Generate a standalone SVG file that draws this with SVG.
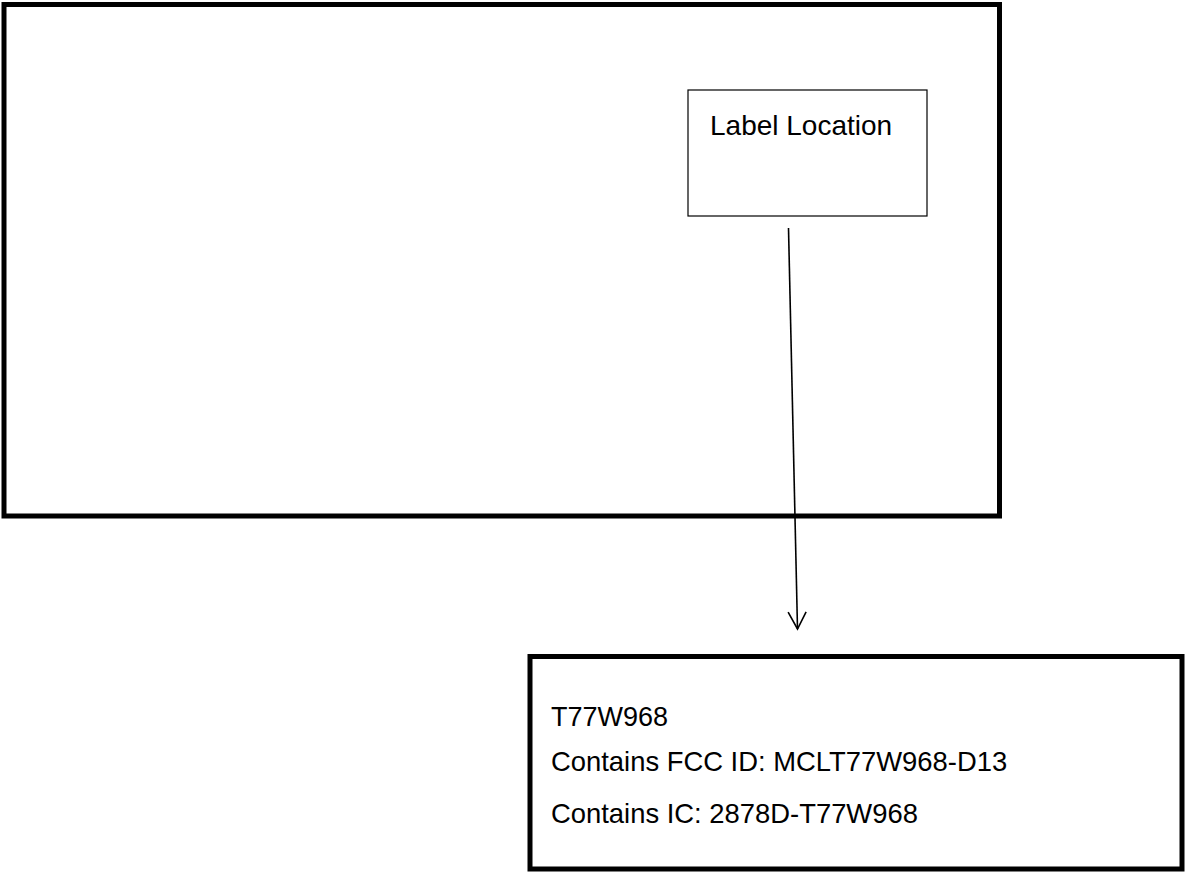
<svg xmlns="http://www.w3.org/2000/svg" width="1185" height="872" viewBox="0 0 1185 872">
  <style>
    .thick { fill: #ffffff; stroke: #000000; stroke-width: 5; }
    .thin { fill: #ffffff; stroke: #000000; stroke-width: 1.2; }
    .txt { font-family: "Liberation Sans", Arial, sans-serif; fill: #000000; }
    .conn { stroke: #000000; stroke-width: 1.6; fill: none; }
  </style>
  <defs>
    <marker id="openArrow" markerUnits="userSpaceOnUse" markerWidth="24" markerHeight="24" refX="18" refY="10" orient="auto" viewBox="0 0 24 20">
      <path d="M1,1 L18,10 L1,19" fill="none" stroke="#000000" stroke-width="1.6"/>
    </marker>
  </defs>
  <rect x="0" y="0" width="1185" height="872" fill="#ffffff"/>
  <g id="device">
    <rect class="thick" x="4" y="4.5" width="995.5" height="511.5"/>
  </g>
  <g id="label-location">
    <rect class="thin" x="688" y="90" width="239" height="126"/>
    <text class="txt" x="710" y="135" font-size="28">Label Location</text>
  </g>
  <g id="label-content">
    <rect class="thick" x="530" y="656.5" width="652" height="212.5"/>
    <text class="txt" x="551" y="726" font-size="27">T77W968</text>
    <text class="txt" x="551" y="771" font-size="27.4">Contains FCC ID: MCLT77W968-D13</text>
    <text class="txt" x="551" y="823" font-size="27.4">Contains IC: 2878D-T77W968</text>
  </g>
  <g id="connectors">
    <line class="conn" x1="788.5" y1="228" x2="797.5" y2="629" marker-end="url(#openArrow)"/>
  </g>
</svg>
